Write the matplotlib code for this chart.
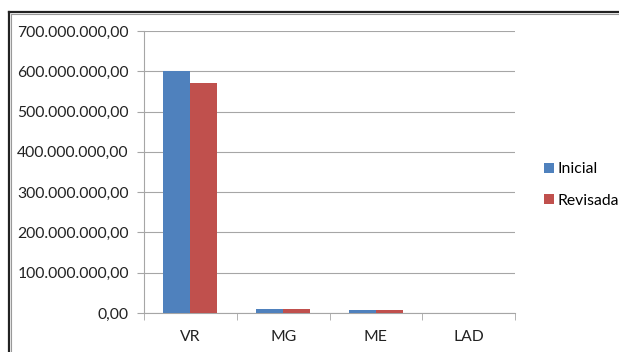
import matplotlib
matplotlib.use("Agg")
import matplotlib.pyplot as plt
from matplotlib.lines import Line2D
from matplotlib.ticker import FuncFormatter, FixedLocator
import numpy as np

categories = ["VR", "MG", "ME", "LAD"]
inicial = [600_000_000, 11_000_000, 8_000_000, 0]
revisada = [570_000_000, 11_000_000, 8_000_000, 0]
y_ticks = [0, 100_000_000, 200_000_000, 300_000_000, 400_000_000,
           500_000_000, 600_000_000, 700_000_000]

plt.rcParams["font.family"] = ["Lato", "DejaVu Sans"]

W, H = 619, 352
fig = plt.figure(figsize=(W / 100, H / 100), dpi=100)
fig.patch.set_facecolor("white")

ax = fig.add_axes([144 / W, 1 - 313 / H, (515 - 144) / W, (313 - 31) / H])

x = np.arange(len(categories))
bw = 0.29
ax.bar(x - bw / 2, inicial, bw, color="#4F81BD", label="Inicial", zorder=3)
ax.bar(x + bw / 2, revisada, bw, color="#C0504D", label="Revisada", zorder=3)

ax.set_xlim(-0.5, len(categories) - 0.5)
ax.set_ylim(0, 700_000_000)

def br_fmt(v, pos):
    s = f"{v:,.2f}"
    return s.replace(",", "X").replace(".", ",").replace("X", ".")

ax.yaxis.set_major_locator(FixedLocator(y_ticks))
ax.yaxis.set_major_formatter(FuncFormatter(br_fmt))
ax.set_xticks(x)
ax.set_xticklabels(categories)
ax.set_xticks(np.arange(-0.5, len(categories)), minor=True)

grid_c = "#A6A6A6"
fs = 11.3
ax.grid(axis="y", color=grid_c, linewidth=0.8, zorder=0)
for s in ["top", "right"]:
    ax.spines[s].set_visible(False)
for s in ["left", "bottom"]:
    ax.spines[s].set_color(grid_c)
    ax.spines[s].set_linewidth(0.8)

ax.tick_params(axis="y", which="major", length=5, color=grid_c, labelsize=fs,
               labelcolor="#222222", pad=6)
ax.tick_params(axis="x", which="major", length=0, labelsize=fs,
               labelcolor="#222222", pad=12)
ax.tick_params(axis="x", which="minor", length=5, color=grid_c)

handles, labels = ax.get_legend_handles_labels()
fig.legend(handles=handles, labels=labels,
           loc="center left", bbox_to_anchor=(530 / W, 1 - 185 / H),
           frameon=False, fontsize=fs, handlelength=0.6,
           handleheight=0.6, handletextpad=0.25, labelspacing=1.1)

# outer chart frame
fig.add_artist(Line2D([9 / W, 9 / W], [0, 1 - 12 / H], transform=fig.transFigure,
                      color="#222222", linewidth=1.6))
fig.add_artist(Line2D([9 / W, 1], [1 - 12 / H, 1 - 12 / H], transform=fig.transFigure,
                      color="#222222", linewidth=1.6))
fig.add_artist(Line2D([11 / W, 11 / W], [0, 1 - 14 / H], transform=fig.transFigure,
                      color="#999999", linewidth=0.8))
fig.add_artist(Line2D([11 / W, 1], [1 - 14 / H, 1 - 14 / H], transform=fig.transFigure,
                      color="#999999", linewidth=0.8))

fig.savefig("out.png", dpi=100)
